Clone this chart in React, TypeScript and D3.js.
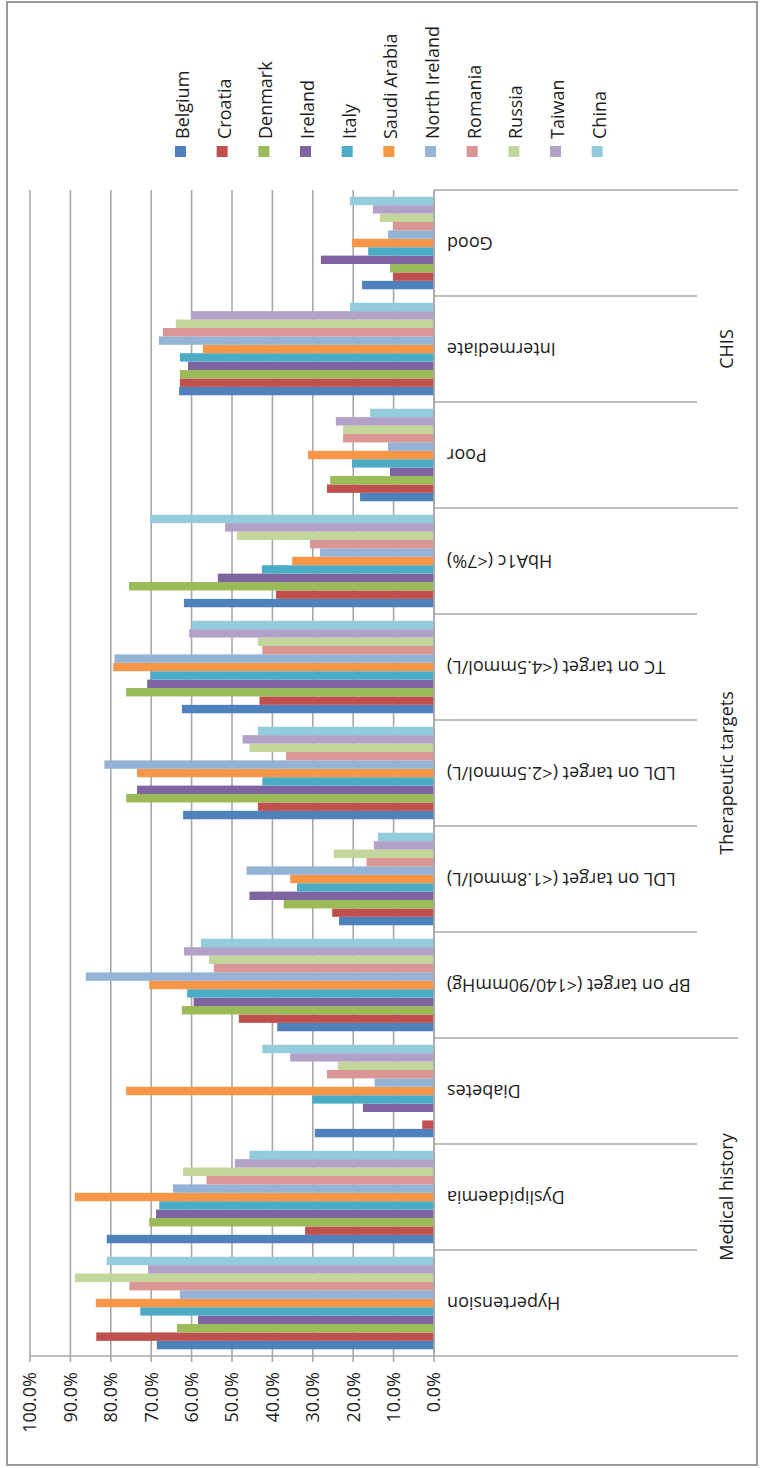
import React from "react";
import * as d3 from "d3";

// Categories, bottom to top along the category axis
const categories = [
  "Hypertension",
  "Dyslipidaemia",
  "Diabetes",
  "BP on target (<140/90mmHg)",
  "LDL on target (<1.8mmol/L)",
  "LDL on target (<2.5mmol/L)",
  "TC on target (<4.5mmol/L)",
  "HbA1c (<7%)",
  "Poor",
  "Intermediate",
  "Good",
];

// Category groups: label and the index range [from, to) of categories they cover
const groupNames = ["Medical history", "Therapeutic targets", "CHIS"];
const groupFrom = [0, 3, 8];
const groupTo = [3, 8, 11];

const countries = [
  "Belgium",
  "Croatia",
  "Denmark",
  "Ireland",
  "Italy",
  "Saudi Arabia",
  "North Ireland",
  "Romania",
  "Russia",
  "Taiwan",
  "China",
];

const colors = [
  "#4F81BD",
  "#C0504D",
  "#9BBB59",
  "#8064A2",
  "#4BACC6",
  "#F79646",
  "#95B3D7",
  "#D99694",
  "#C3D69B",
  "#B3A2C7",
  "#93CDDD",
];

// Percentages per country, in category order
const belgium = [68.6, 81.0, 29.5, 38.8, 23.5, 62.1, 62.4, 61.9, 18.3, 63.1, 17.8];
const croatia = [83.6, 31.9, 2.9, 48.3, 25.2, 43.6, 43.2, 39.1, 26.5, 62.9, 10.1];
const denmark = [63.6, 70.5, 0, 62.4, 37.2, 76.2, 76.2, 75.5, 25.7, 62.9, 10.9];
const ireland = [58.4, 68.8, 17.6, 59.5, 45.7, 73.5, 71.0, 53.5, 10.9, 60.9, 28.0];
const italy = [72.7, 68.0, 30.1, 61.1, 33.9, 42.5, 70.2, 42.6, 20.3, 62.9, 16.3];
const saudiArabia = [83.7, 88.9, 76.2, 70.5, 35.6, 73.5, 79.4, 35.1, 31.2, 57.2, 20.3];
const northIreland = [62.9, 64.6, 14.7, 86.2, 46.4, 81.6, 79.1, 28.2, 11.4, 68.1, 11.4];
const romania = [75.4, 56.3, 26.5, 54.5, 16.7, 36.6, 42.5, 30.7, 22.5, 67.1, 10.1];
const russia = [88.9, 62.1, 23.8, 55.7, 24.8, 45.7, 43.6, 48.8, 22.5, 63.9, 13.4];
const taiwan = [70.8, 49.3, 35.6, 61.9, 14.9, 47.4, 60.6, 51.7, 24.3, 60.1, 15.1];
const china = [81.0, 45.7, 42.5, 57.7, 13.9, 43.6, 59.9, 70.3, 15.8, 20.8, 20.8];

const seriesValues = [
  belgium,
  croatia,
  denmark,
  ireland,
  italy,
  saudiArabia,
  northIreland,
  romania,
  russia,
  taiwan,
  china,
];

const valueTicks = [0, 10, 20, 30, 40, 50, 60, 70, 80, 90, 100];

const W = 762;
const H = 1468;
const FONT = "'Open Sans', 'DejaVu Sans', sans-serif";
const TEXT = "#1e1e1e";
const GRID = "#a8a8a8";

export default function App() {
  const plotLeft = 30;
  const plotRight = 434;
  const plotTop = 190;
  const plotBottom = 1356;

  const x = d3.scaleLinear().domain([0, 100]).range([plotRight, plotLeft]);
  const y = d3
    .scaleBand<string>()
    .domain(categories)
    .range([plotBottom, plotTop])
    .paddingInner(0)
    .paddingOuter(0);
  const bw = y.bandwidth();
  const sub = d3
    .scaleBand<string>()
    .domain(countries)
    .range([bw, 0])
    .paddingInner(0)
    .paddingOuter(0.8);

  const legendX = d3
    .scalePoint<string>()
    .domain(countries)
    .range([180.5, 597.2]);

  const fmt = d3.format(".1f");
  const boundaryIdx = d3.range(categories.length + 1);
  const groupEdges = new Set([...groupFrom, ...groupTo]);
  const boundaryY = (i: number) => plotBottom - i * bw;

  return (
    <div style={{ position: "absolute", left: 0, top: 0 }}>
      <svg width={W} height={H} style={{ display: "block", background: "#fff" }}>
        {/* frame */}
        <rect x={7} y={2} width={750} height={1463} fill="#fff" stroke="#9a9a9a" strokeWidth={2} />

        {/* vertical gridlines with ticks below the value axis */}
        {valueTicks.map((t) => (
          <line
            key={"g" + t}
            x1={x(t)}
            x2={x(t)}
            y1={plotTop}
            y2={plotBottom + 6}
            stroke={GRID}
            strokeWidth={1.6}
          />
        ))}
        {/* value axis line */}
        <line x1={plotLeft} x2={plotRight} y1={plotBottom} y2={plotBottom} stroke={GRID} strokeWidth={1.6} />

        {/* tick labels */}
        {valueTicks.map((t) => (
          <text
            key={"t" + t}
            transform={`translate(${x(t)},${plotBottom + 16}) rotate(-90)`}
            textAnchor="end"
            dy="0.36em"
            fontFamily={FONT}
            fontSize={18}
            fill={TEXT}
          >
            {fmt(t) + "%"}
          </text>
        ))}

        {/* bars */}
        {categories.map((c, ci) => (
          <g key={c} transform={`translate(0,${y(c)})`}>
            {countries.map((s, si) => {
              const v = seriesValues[si][ci];
              return (
                <rect
                  key={s}
                  x={x(v)}
                  y={sub(s)}
                  width={x(0) - x(v)}
                  height={sub.bandwidth()}
                  fill={colors[si]}
                />
              );
            })}
          </g>
        ))}

        {/* category axis line and separators */}
        <line x1={plotRight} x2={plotRight} y1={plotTop} y2={plotBottom} stroke={GRID} strokeWidth={1.6} />
        {boundaryIdx.map((i) => (
          <line
            key={"b" + i}
            x1={plotRight}
            x2={groupEdges.has(i) ? 738 : 697}
            y1={boundaryY(i)}
            y2={boundaryY(i)}
            stroke={GRID}
            strokeWidth={1.6}
          />
        ))}

        {/* category labels */}
        {categories.map((c) => (
          <text
            key={"c" + c}
            transform={`translate(447,${(y(c) as number) + bw / 2}) rotate(180)`}
            textAnchor="end"
            dy="0.36em"
            fontFamily={FONT}
            fontSize={18}
            fill={TEXT}
          >
            {c}
          </text>
        ))}

        {/* group labels */}
        {groupNames.map((g, gi) => {
          const mid = (boundaryY(groupFrom[gi]) + boundaryY(groupTo[gi])) / 2;
          return (
            <text
              key={g}
              transform={`translate(727,${mid}) rotate(-90)`}
              textAnchor="middle"
              dy="0.36em"
              fontFamily={FONT}
              fontSize={18}
              fill={TEXT}
            >
              {g}
            </text>
          );
        })}

        {/* legend */}
        {countries.map((s, si) => {
          const cx = legendX(s) as number;
          return (
            <g key={"l" + s}>
              <rect x={cx - 5.5} y={146} width={11} height={11} fill={colors[si]} />
              <text
                transform={`translate(${cx + 2},139) rotate(-90)`}
                textAnchor="start"
                dy="0.36em"
                fontFamily={FONT}
                fontSize={18}
                fill={TEXT}
              >
                {s}
              </text>
            </g>
          );
        })}
      </svg>
    </div>
  );
}
